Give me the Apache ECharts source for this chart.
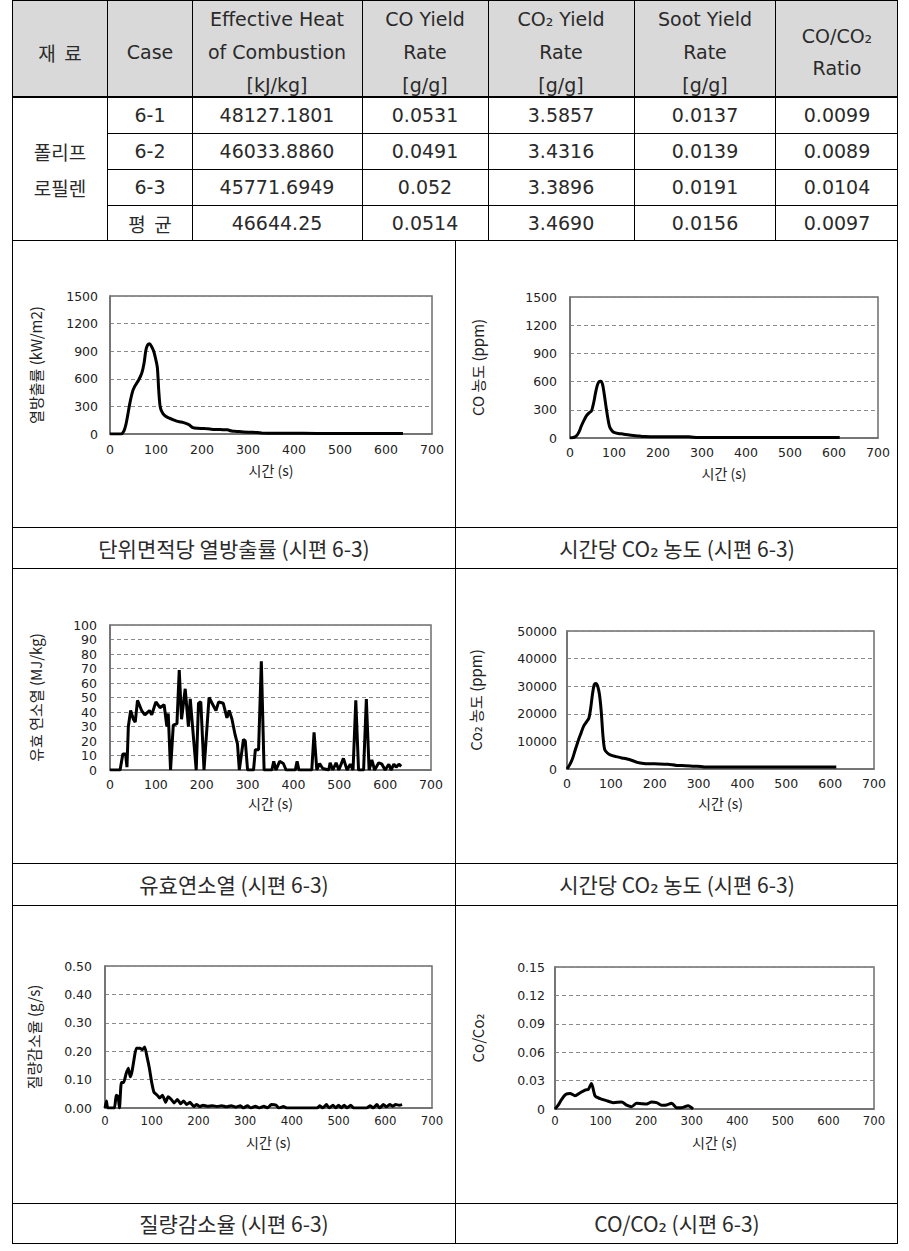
<!DOCTYPE html>
<html><head><meta charset="utf-8">
<script src="https://cdn.jsdelivr.net/npm/echarts@6/dist/echarts.min.js"></script>
<style>html,body{margin:0;padding:0;background:#fff}#c{width:909px;height:1251px}</style>
</head><body><div id="c"></div>
<script>
// ---------- Table data ----------
const headerCols = [
  ['재  료'], ['Case'], ['Effective Heat','of Combustion','[kJ/kg]'],
  ['CO Yield','Rate','[g/g]'], ['CO₂ Yield','Rate','[g/g]'],
  ['Soot Yield','Rate','[g/g]'], ['CO/CO₂','Ratio']
];
const material = ['폴리프','로필렌'];
const cases = ['6-1','6-2','6-3','평  균'];
const heatValues = ['48127.1801','46033.8860','45771.6949','46644.25'];
const coYield = ['0.0531','0.0491','0.052','0.0514'];
const co2Yield = ['3.5857','3.4316','3.3896','3.4690'];
const sootYield = ['0.0137','0.0139','0.0191','0.0156'];
const ratioValues = ['0.0099','0.0089','0.0104','0.0097'];
const captions = ['단위면적당 열방출률 (시편 6-3)','시간당 CO₂ 농도 (시편 6-3)',
  '유효연소열 (시편 6-3)','시간당 CO₂ 농도 (시편 6-3)',
  '질량감소율 (시편 6-3)','CO/CO₂ (시편 6-3)'];

// ---------- Axis ticks ----------
const xTicks = [0,100,200,300,400,500,600,700];
const hrrTicks = [0,300,600,900,1200,1500];
const coTicks = [0,300,600,900,1200,1500];
const ehcTicks = [0,10,20,30,40,50,60,70,80,90,100];
const co2Ticks = [0,10000,20000,30000,40000,50000];
const mlrTicks = [0,0.1,0.2,0.3,0.4,0.5];
const mlrTickLabels = ['0.00','0.10','0.20','0.30','0.40','0.50'];
const ratioTicks = [0,0.03,0.06,0.09,0.12,0.15];
const ratioTickLabels = ['0','0.03','0.06','0.09','0.12','0.15'];
const xName = '시간 (s)';
const yNames = ['열방출률 (kW/m2)','CO 농도 (ppm)','유효 연소열 (MJ/kg)','Co₂ 농도 (ppm)','질량감소율 (g/s)','Co/Co₂'];

// ---------- Series data ----------
const hrrT = [0,24,30,34,38,43,49,54,62,69,74,78,82,86,90,95,100,103,106,109,113,118,125,135,145,155,165,172,180,190,205,220,240,255,265,275,290,310,330,350,380,420,480,540,600,637];
const hrrV = [0,0,30,90,190,330,460,520,585,660,770,910,970,980,955,900,800,720,470,300,240,205,180,160,140,130,115,100,70,62,60,52,48,45,32,28,22,18,12,8,7,7,5,6,6,6];

const coT = [0,8,14,20,26,32,38,44,49,54,58,62,66,70,74,78,82,86,90,95,100,110,120,135,150,170,200,240,270,290,330,380,450,530,613];
const coV = [0,5,20,60,130,190,240,270,290,380,480,560,600,605,570,460,330,210,120,80,60,48,42,32,25,15,12,12,12,6,5,5,6,5,4];

const ehcT = [0,22,28,34,37,40,45,51,55,60,69,76,86,91,100,109,118,124,127,132,138,146,151,156,164,171,175,180,188,193,198,205,216,226,231,237,247,255,260,266,273,278,282,291,295,300,313,317,324,330,336,353,357,362,370,378,384,404,408,412,440,445,451,457,464,477,480,486,493,499,509,517,524,530,536,542,553,559,565,571,577,586,593,600,608,613,619,624,630,635];
const ehcV = [0,0,11,11,2,30,41,35,33,48,41,38,41,38,47,43,45,30,39,0,31,32,69,35,56,30,49,30,0,46,47,0,50,44,41,47,46,36,41,35,24,18,0,21,20,0,0,14,14,75,0,0,6,0,6,4.5,0,0,6,0,0,26,0,4.5,1,0,5,0,5,0,8,0,4,0,48,0,0,49,0,7,0,5,4,0,4,0,4,2,4,2.5];

const co2T = [0,6,12,18,25,32,38,44,50,54,58,62,66,70,74,78,82,86,92,100,112,125,135,150,160,175,190,210,230,250,270,290,305,315,335,400,500,614];
const co2V = [0,1500,3500,6500,10000,13000,15500,17000,18500,22000,27000,30500,31000,30000,27000,21000,12000,7000,5800,5000,4500,4000,3700,3000,2400,2000,1900,1850,1700,1300,1200,1000,900,700,700,700,700,700];

const mlrT = [0,3,6,20,24,28,31,35,40,45,50,54,58,62,67,75,80,85,90,95,100,105,112,117,123,130,135,142,148,155,162,168,175,182,190,196,203,210,220,230,240,250,260,270,280,290,296,305,312,322,330,340,348,356,366,372,382,390,404,454,460,466,474,480,488,494,500,506,512,518,526,532,545,560,568,574,582,588,596,602,610,616,622,630,636];
const mlrV = [0,0.025,0,0,0.045,0.04,0,0.09,0.09,0.12,0.14,0.11,0.13,0.17,0.21,0.21,0.205,0.215,0.18,0.14,0.09,0.055,0.045,0.035,0.045,0.02,0.04,0.03,0.018,0.03,0.015,0.025,0.012,0.02,0.005,0.012,0.005,0.01,0.006,0.008,0.005,0.008,0.004,0.008,0.003,0.008,0,0.008,0,0.006,0,0.006,0,0.012,0.01,0,0.005,0,0,0,0.008,0,0.012,0,0.01,0,0.01,0,0.01,0,0.01,0,0,0,0.008,0,0.012,0,0.012,0.004,0.012,0.006,0.012,0.01,0.012];

const ratioT = [0,7,15,24,33,44,55,66,73,80,88,99,113,128,146,157,168,179,190,201,212,223,234,245,256,267,278,292,303];
const ratioV = [0,0.004,0.0105,0.0155,0.0165,0.014,0.017,0.02,0.0207,0.027,0.0137,0.011,0.0088,0.0067,0.0074,0.0042,0.0025,0.006,0.0056,0.0053,0.0074,0.0067,0.0039,0.0042,0.006,0.0014,0.0014,0.0035,0];

// ---------- Build ----------
const zip = (a,b) => a.map((t,i)=>[t,b[i]]);
const LAT = "'DejaVu Sans','Noto Sans CJK KR',sans-serif";
const KR = "'Noto Sans CJK KR','DejaVu Sans',sans-serif";
const NARROW = "'Liberation Sans Narrow','DejaVu Sans Condensed','DejaVu Sans',sans-serif";

const g = [];
g.push({type:'rect', z:-10, shape:{x:12,y:1,width:886,height:96}, style:{fill:'#d9d9d9'}});
function hl(y,x1,x2,w){g.push({type:'line',z:10,shape:{x1:x1,y1:y,x2:x2,y2:y},style:{stroke:'#000',lineWidth:w||1}});}
function vl(x,y1,y2,w){g.push({type:'line',z:10,shape:{x1:x,y1:y1,x2:x,y2:y2},style:{stroke:'#000',lineWidth:w||1}});}
function tx(s,x,y,size,fam){g.push({type:'text',z:10,style:{text:s,x:x,y:y,fill:'#2a2a2a',fontSize:size,fontFamily:fam,align:'center',verticalAlign:'middle'}});}

[0.5,240.5,527.5,568.5,863.5,905.5,1203.5,1243.5].forEach(y=>hl(y,12,898));
hl(97,12,898,2);
[133.5,169.5,205.5].forEach(y=>hl(y,107,898));
[12.5,107.5,192.5,362.5,488.5,634.5,775.5,897.5].forEach(x=>vl(x,0,240.5));
[12.5,455.5,897.5].forEach(x=>vl(x,240,1243.5));

const colCenters = [60,150,277,425,561,705,837];
headerCols.forEach((lines,i)=>{
  const ys = lines.length===1?[52]:lines.length===2?[36,68]:[19,52,85];
  lines.forEach((s,j)=>tx(s,colCenters[i],ys[j],19,(i===0)?KR:LAT));
});
const rowY = [115,151,187,223];
tx(material[0],60,151,19,KR); tx(material[1],60,187,19,KR);
[cases,heatValues,coYield,co2Yield,sootYield,ratioValues].forEach((col,ci)=>{
  col.forEach((s,ri)=>tx(s,colCenters[ci+1],rowY[ri],19,(ci===0&&ri===3)?KR:LAT));
});
const capPos = [[234,548],[677,548],[234,884],[677,884],[234,1223],[677,1223]];
captions.forEach((s,i)=>tx(s,capPos[i][0],capPos[i][1],21,KR));

const grids = [
  {left:110,top:296,width:322,height:138},
  {left:570,top:297,width:308,height:141},
  {left:110,top:625,width:321,height:145},
  {left:567,top:631,width:307,height:138},
  {left:105,top:966,width:327,height:142},
  {left:555,top:967,width:319,height:142}
];
const yTickSets = [hrrTicks,coTicks,ehcTicks,co2Ticks,mlrTicks,ratioTicks];
const yLabelSets = [null,null,null,null,mlrTickLabels,ratioTickLabels];
const yNameGap = [67,85,67,84,64,70];
const yLabMargin = [12,13,13,10,13,10];
const xLabMargin = [9,8,8,8,6,5];
const xNameGap = [29,28,26,27,27,26];
const seriesData = [zip(hrrT,hrrV),zip(coT,coV),zip(ehcT,ehcV),zip(co2T,co2V),zip(mlrT,mlrV),zip(ratioT,ratioV)];
const smooth = [0.3,0.3,false,0.3,0.15,0.25];

const AX = '#6e6e6e';
const option = {
  animation:false,
  backgroundColor:'#fff',
  graphic:g,
  grid: grids.map(gr=>Object.assign({show:true,borderColor:AX,borderWidth:1.5,backgroundColor:'transparent'},gr)),
  xAxis: grids.map((gr,i)=>({
    type:'value',gridIndex:i,min:xTicks[0],max:xTicks[xTicks.length-1],interval:xTicks[1]-xTicks[0],
    name:xName,nameLocation:'middle',nameGap:xNameGap[i],
    nameTextStyle:{fontFamily:KR,fontSize:14,color:'#222'},
    axisLine:{show:true,onZero:false,lineStyle:{color:AX,width:1.5}},
    axisTick:{show:false},
    splitLine:{show:false},
    axisLabel:{margin:xLabMargin[i],fontSize:i>=4?13:12.5,fontFamily:i>=4?NARROW:LAT,color:'#222'}
  })),
  yAxis: grids.map((gr,i)=>{
    const tk = yTickSets[i], lab = yLabelSets[i];
    const mn = tk[0], iv = tk[1]-tk[0];
    return {
      type:'value',gridIndex:i,min:mn,max:tk[tk.length-1],interval:iv,
      name:yNames[i],nameLocation:'middle',nameGap:yNameGap[i],
      nameTextStyle:{fontFamily:KR,fontSize:15,color:'#222'},
      axisLine:{show:true,lineStyle:{color:AX,width:1.5}},
      axisTick:{show:false},
      splitLine:{show:true,lineStyle:{color:'#8a8a8a',width:1,type:[4,3]}},
      axisLabel:{margin:yLabMargin[i],fontSize:12.5,fontFamily:LAT,color:'#222',
        formatter: v => lab ? lab[Math.round((v-mn)/iv)] : String(v)}
    };
  }),
  series: seriesData.map((d,i)=>({
    type:'line',xAxisIndex:i,yAxisIndex:i,data:d,symbol:'none',smooth:smooth[i],
    lineStyle:{color:'#000',width:3},z:5
  }))
};
const chart = echarts.init(document.getElementById('c'),null,{renderer:'svg'});
chart.setOption(option);
</script></body></html>
